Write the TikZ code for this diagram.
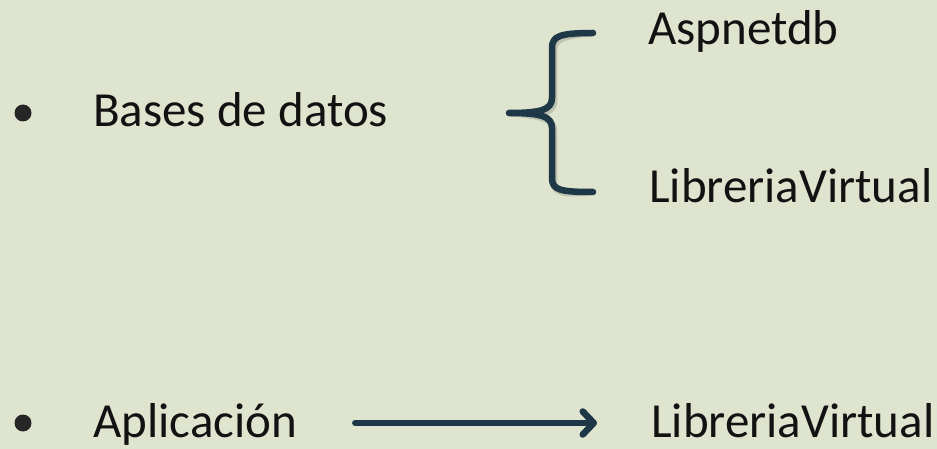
\documentclass[tikz,border=0pt]{standalone}
\usepackage{fontspec}
\setmainfont{Carlito}
\usetikzlibrary{arrows.meta}
\usetikzlibrary{positioning}
\usetikzlibrary{calc}
\definecolor{fondo}{RGB}{222,228,206}
\definecolor{pizarra}{RGB}{30,56,72}
\definecolor{tinta}{RGB}{18,18,18}
\tikzstyle{vineta}=[circle,fill=black!85,minimum size=17pt,inner sep=0pt]
\tikzstyle{texto}=[anchor=base west,inner sep=0pt,text=tinta,font=\fontsize{49}{58}\selectfont]
\tikzstyle{trazo}=[draw=pizarra,line width=6.5pt,line cap=round,line join=round]
\tikzstyle{sombra}=[draw=black,opacity=0.15,shift={(2,3)}]

\begin{document}
\begin{tikzpicture}[x=1pt,y=-1pt]
\fill[fondo] (0,0) rectangle (937,449);
\useasboundingbox (0,0) rectangle (937,449);
% primera fila
\node [vineta] (b1) at (23,113) {};
\node [texto] (bases) at (93,127) {Bases de datos};
\node [texto] (asp) at (648,45) {Aspnetdb};
\node [texto] (lib1) at (649,203) {LibreriaVirtual};
% segunda fila
\node [vineta] (b2) at (23,423) {};
\node [texto] (apl) at (93,437) {Aplicación};
\node [texto] (lib2) at (651,437) {LibreriaVirtual};
% llave
\coordinate (llsup) at (593,33);
\coordinate (llinf) at (593,192);
\coordinate (llpun) at (509,113);
\draw [trazo,sombra]
  (llsup) .. controls (560,33) and (552,36) .. (552,48) -- (552,98)
  .. controls (552,110) and (540,113) .. (llpun)
  .. controls (540,113) and (552,116) .. (552,128) -- (552,178)
  .. controls (552,190) and (560,192) .. (llinf);
\draw [trazo]
  (llsup) .. controls (560,33) and (552,36) .. (552,48) -- (552,98)
  .. controls (552,110) and (540,113) .. (llpun)
  .. controls (540,113) and (552,116) .. (552,128) -- (552,178)
  .. controls (552,190) and (560,192) .. (llinf);
% flecha
\draw [trazo,sombra,-{Straight Barb[length=11pt,width=23pt,round]}]
  ([xshift=58pt]apl.east |- b2) -- ([xshift=-54pt]lib2.west |- b2);
\draw [trazo,-{Straight Barb[length=11pt,width=23pt,round]}]
  ([xshift=58pt]apl.east |- b2) -- ([xshift=-54pt]lib2.west |- b2);
\end{tikzpicture}
\end{document}
